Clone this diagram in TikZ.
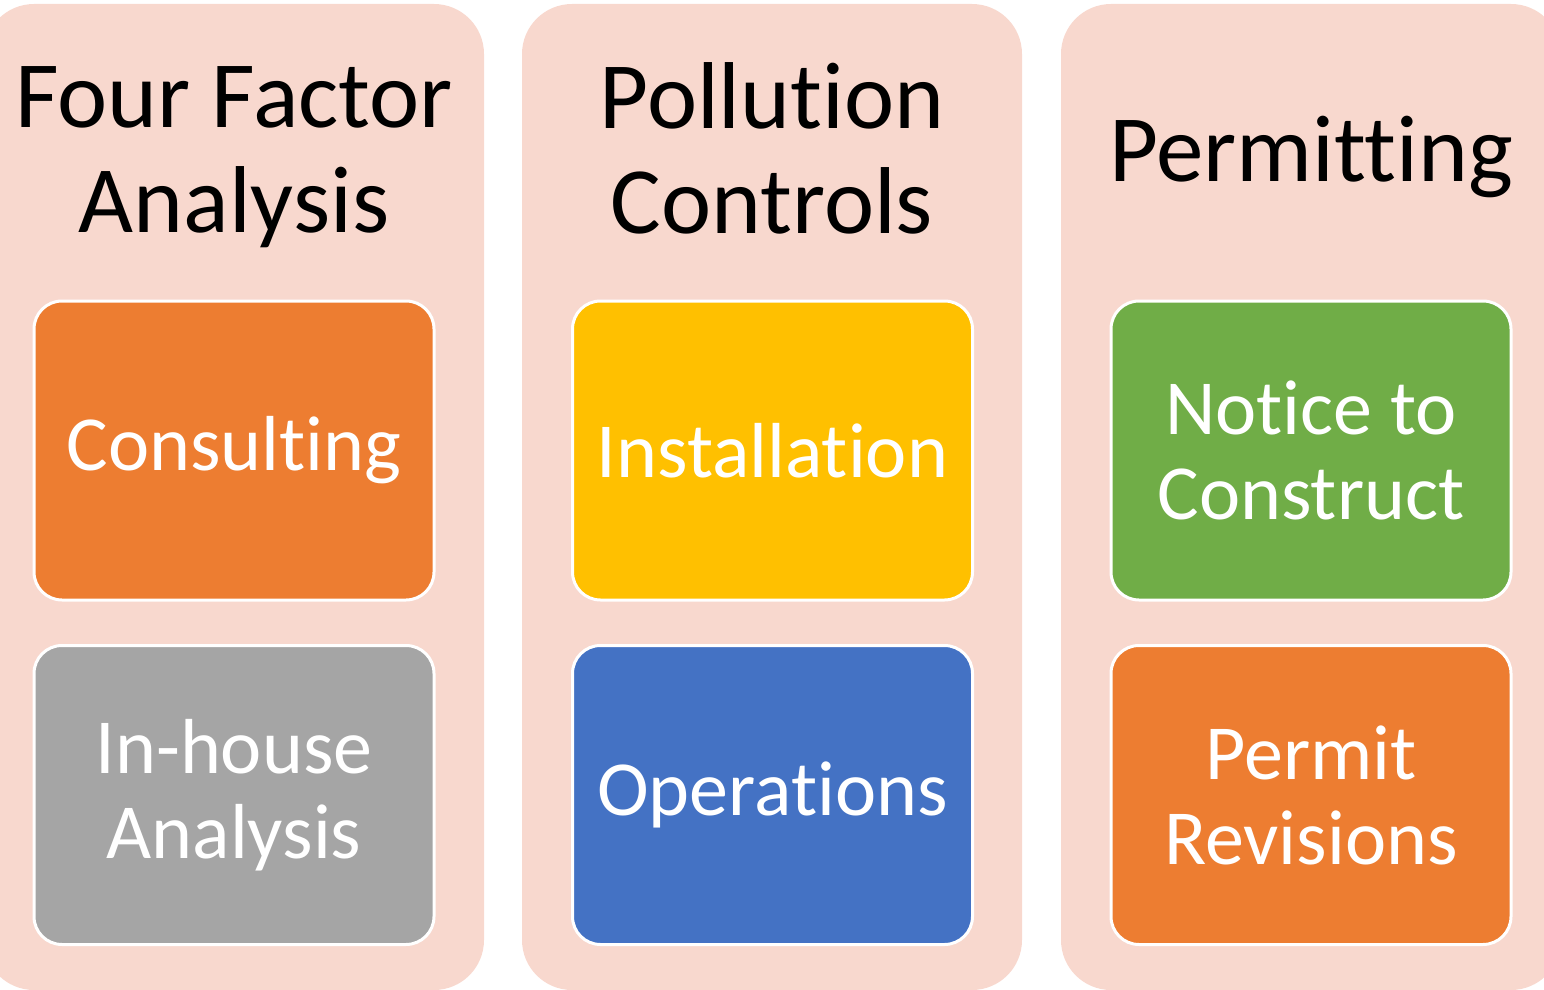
\documentclass[tikz,border=0pt]{standalone}
\usepackage{fontspec}
\setmainfont{Carlito}[Ligatures=NoCommon]
\usetikzlibrary{positioning}
\definecolor{panelpink}{HTML}{F8D8CE}
\definecolor{boxorange}{HTML}{ED7D31}
\definecolor{boxgray}{HTML}{A5A5A5}
\definecolor{boxyellow}{HTML}{FFC000}
\definecolor{boxblue}{HTML}{4472C4}
\definecolor{boxgreen}{HTML}{70AD47}
\tikzset{
  panel/.style={fill=panelpink, rounded corners=25pt, minimum width=250pt,
    minimum height=493pt, inner sep=0pt},
  head/.style={align=center, font=\fontsize{47.5}{52.5}\selectfont},
  item/.style={draw=white, line width=1.5pt, rounded corners=14pt,
    minimum width=200pt, minimum height=149.5pt, align=center, text=white,
    font=\fontsize{39}{42.5}\selectfont},
}
\begin{document}
\begin{tikzpicture}[x=0.5pt,y=-0.5pt]
  \clip (0,0) rectangle (1544,990);
  % three columns
  \node [panel] (colA) at (234,497) {};
  \node [panel] (colB) at (772,497) {};
  \node [panel] (colC) at (1311,497) {};
  % headings
  \node [head] (headA) at (234,157) {Four Factor\\Analysis};
  \node [head] (headB) at (772,148) {Pollution\\Controls};
  \node [head] (headC) at (1311,157) {Permitting};
  % boxes
  \node [item, fill=boxorange] (consult) at (234,450.5) {Consulting};
  \node [item, fill=boxgray] (inhouse) at (234,795) {In-house\\Analysis};
  \node [item, fill=boxyellow] (install) at (772.5,450.5) {Installation};
  \node [item, fill=boxblue] (operate) at (772.5,795) {Operations};
  \node [item, fill=boxgreen] (notice) at (1311,450.5) {Notice to\\Construct};
  \node [item, fill=boxorange] (revise) at (1311,795) {Permit\\Revisions};
\end{tikzpicture}
\end{document}
